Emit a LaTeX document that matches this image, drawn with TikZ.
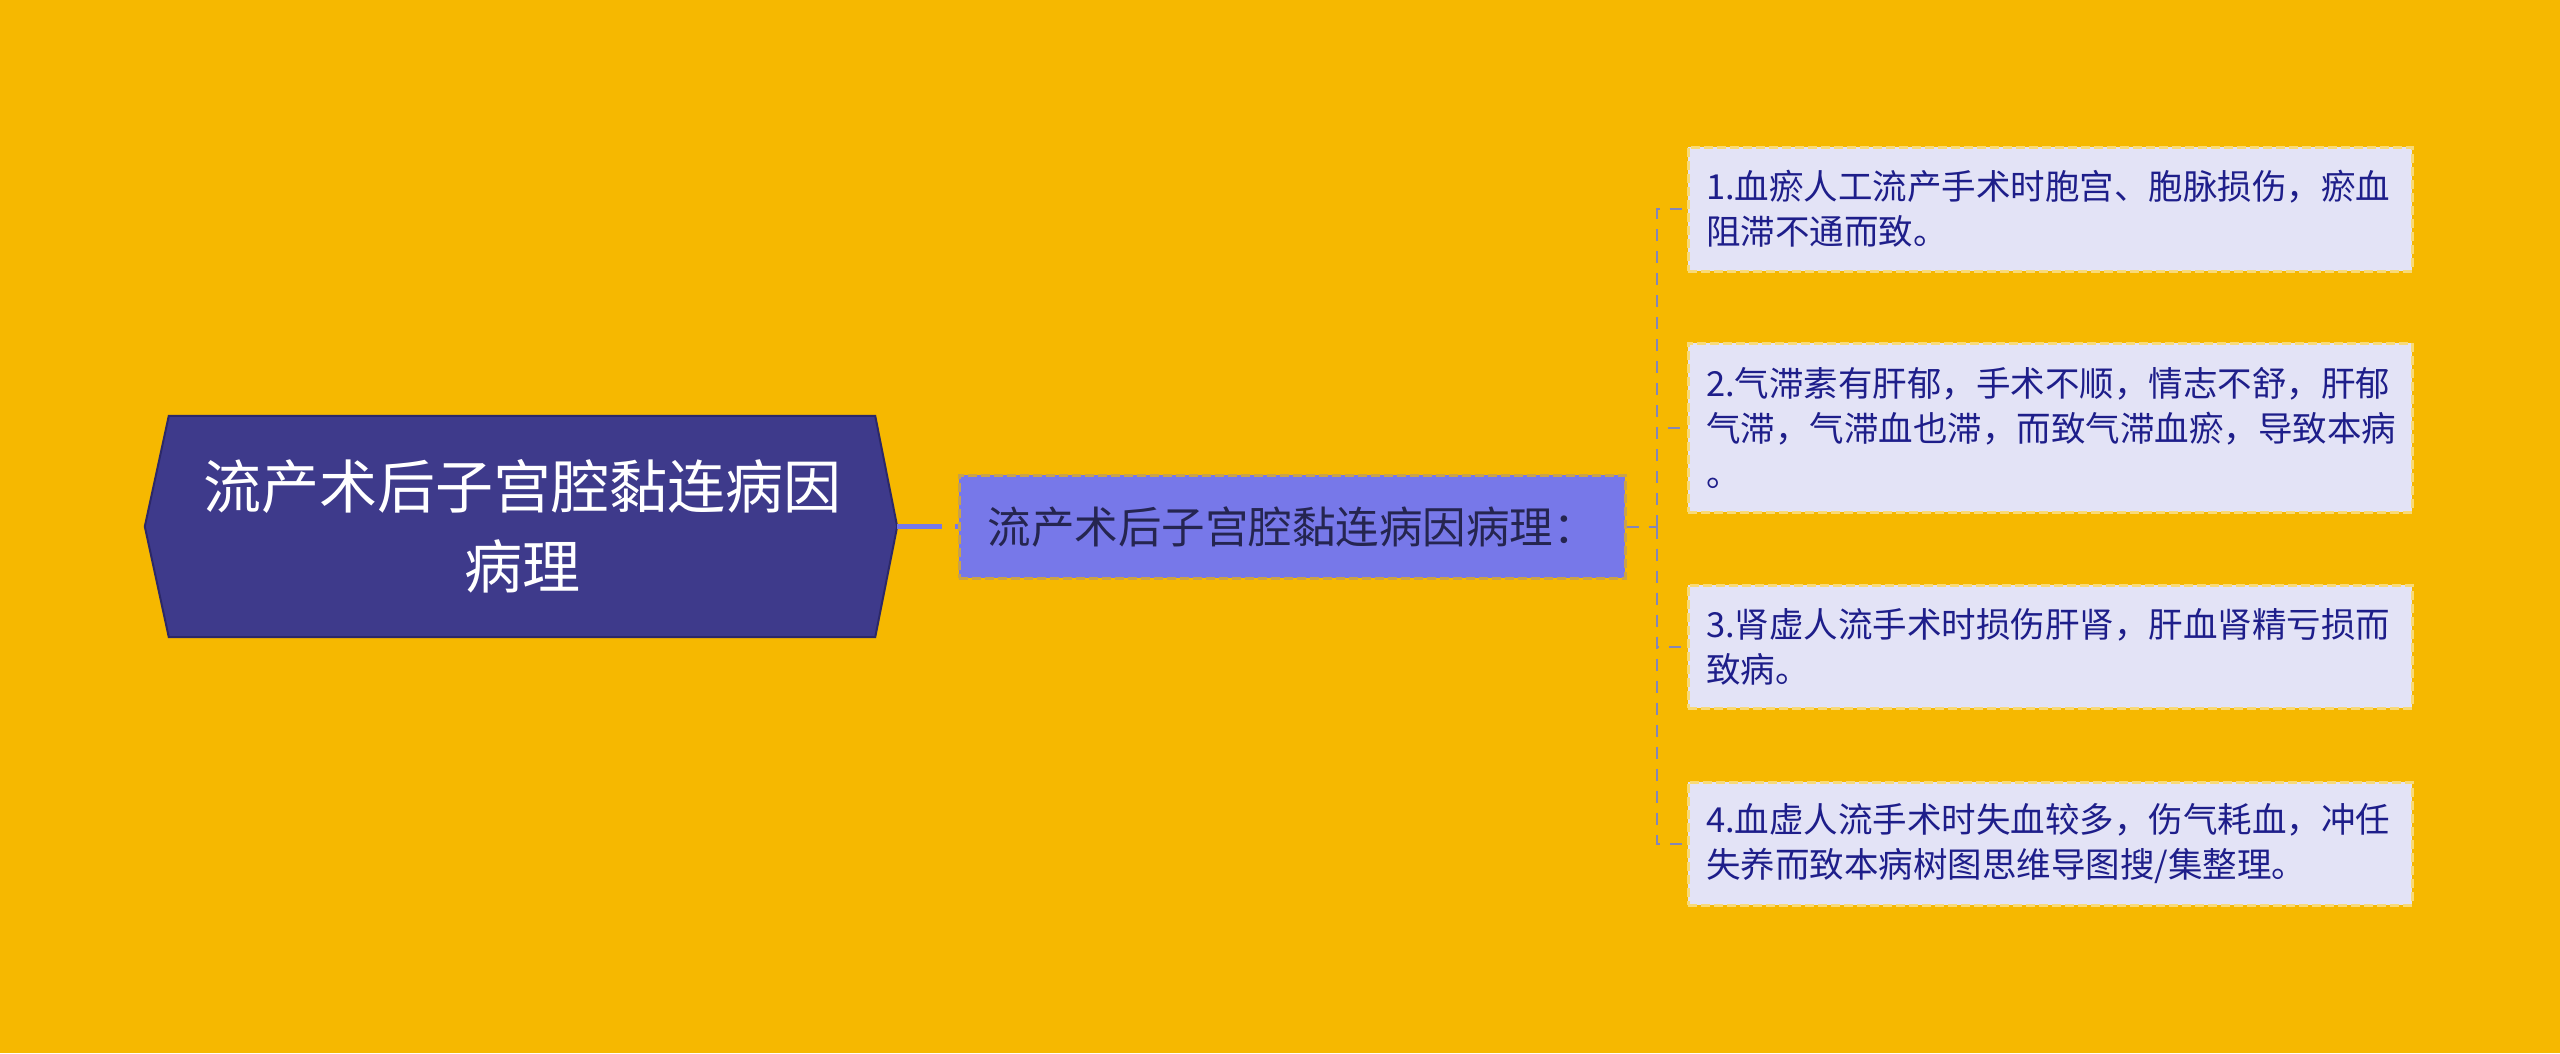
\documentclass[tikz,border=0pt]{standalone}
\usepackage{fontspec}
\setmainfont{Noto Sans CJK SC}
\usetikzlibrary{backgrounds}
\definecolor{bgc}{HTML}{F6B800}
\definecolor{rootc}{HTML}{3E3A8B}
\definecolor{rootln}{HTML}{2C2868}
\definecolor{midc}{HTML}{7778E9}
\definecolor{midln}{HTML}{C9A24A}
\definecolor{midtx}{HTML}{252550}
\definecolor{leafc}{HTML}{E3E3F6}
\definecolor{leafln}{HTML}{F8DA78}
\definecolor{leaftx}{HTML}{1E1E8A}
\definecolor{connc}{HTML}{8486B8}
\tikzset{
  rootbox/.style={inner sep=0pt, minimum width=706pt, minimum height=221pt, text=white,
    align=center, font=\fontsize{58}{80}\selectfont},
  midbox/.style={fill=midc, draw=midln, line width=3pt, dash pattern=on 9pt off 4pt,
    inner sep=0pt, minimum width=666pt, minimum height=103pt, text=midtx,
    font=\fontsize{43.5}{50}\selectfont},
  leafbox/.style={fill=leafc, draw=leafln, line width=3pt, dash pattern=on 9pt off 4pt,
    inner sep=0pt, minimum width=724pt, text width=688pt, align=left, text=leaftx,
    font=\fontsize{34.5}{45}\selectfont},
  thickconn/.style={draw=midc, line width=4.5pt, dash pattern=on 45pt off 13pt},
  treeconn/.style={draw=connc, line width=2pt, dash pattern=on 12pt off 10pt}
}
\begin{document}
\begin{tikzpicture}[x=1pt,y=-1pt]
\useasboundingbox (0,0) rectangle (2560,1053);
\begin{scope}[on background layer]
\fill[bgc] (0,0) rectangle (2560,1053);
\end{scope}
\node[rootbox] (root) at (522,526.5) {流产术后子宫腔黏连病因\\病理};
\begin{scope}[on background layer]
\filldraw[fill=rootc, draw=rootln, line width=2pt, line join=miter]
  (root.north west) -- (root.north east) -- ([xshift=22pt]root.east)
  -- (root.south east) -- (root.south west) -- ([xshift=-24pt]root.west) -- cycle;
\end{scope}
\coordinate (rootR) at ([xshift=22pt]root.east);
\node[midbox] (mid) at (1292,526.5) {流产术后子宫腔黏连病因病理：};
\node[leafbox, minimum height=124pt] (c1) at (2050,209) {1.血瘀人工流产手术时胞宫、胞脉损伤，瘀血\\阻滞不通而致。};
\node[leafbox, minimum height=169pt] (c2) at (2050,427.5) {2.气滞素有肝郁，手术不顺，情志不舒，肝郁\\气滞，气滞血也滞，而致气滞血瘀，导致本病\\。};
\node[leafbox, minimum height=123pt] (c3) at (2050,646.5) {3.肾虚人流手术时损伤肝肾，肝血肾精亏损而\\致病。};
\node[leafbox, minimum height=123pt] (c4) at (2050,843.5) {4.血虚人流手术时失血较多，伤气耗血，冲任\\失养而致本病树图思维导图搜/集整理。};
\coordinate (trunk) at (1657,526.5);
\draw[thickconn] (rootR) -- (mid.west);
\draw[treeconn] (mid.east) -- (trunk);
\draw[treeconn] (trunk) |- (c1.west);
\draw[treeconn] (trunk) |- (c2.west);
\draw[treeconn] (trunk) |- (c3.west);
\draw[treeconn] (trunk) |- (c4.west);
\end{tikzpicture}
\end{document}
